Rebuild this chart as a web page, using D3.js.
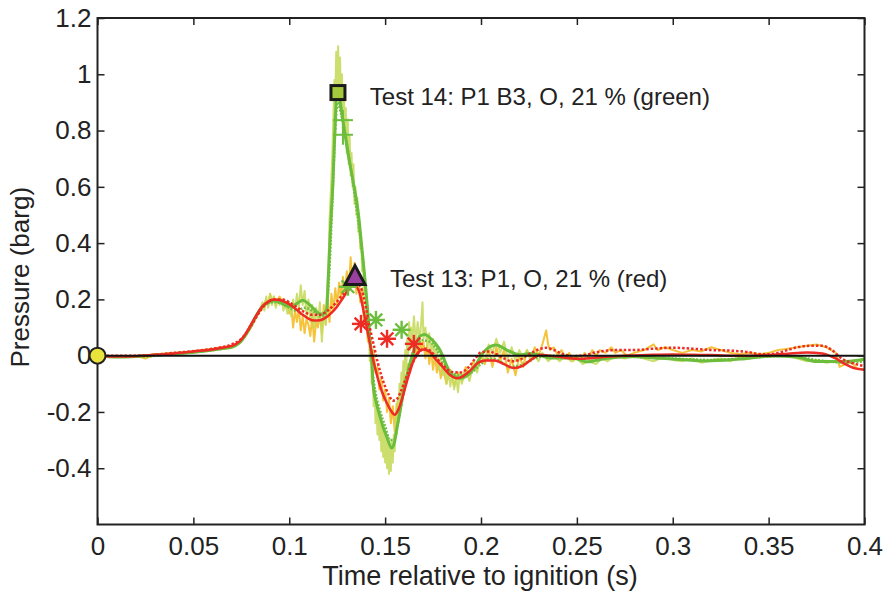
<!DOCTYPE html>
<html><head><meta charset="utf-8">
<script src="https://cdn.jsdelivr.net/npm/d3@7"></script>
<style>
html,body{margin:0;padding:0;background:#fff;}
text{font-family:"Liberation Sans",Arial,Helvetica,sans-serif;fill:#222;}
</style></head>
<body><svg id="chart" width="885" height="592"></svg>
<script>
// ---------- data (time s, pressure barg) ----------
const xTicks = [0,0.05,0.1,0.15,0.2,0.25,0.3,0.35,0.4];
const xTickLabels = ["0","0.05","0.1","0.15","0.2","0.25","0.3","0.35","0.4"];
const yTicks = [-0.4,-0.2,0,0.2,0.4,0.6,0.8,1,1.2];
const yTickLabels = ["-0.4","-0.2","0","0.2","0.4","0.6","0.8","1","1.2"];

// Test 13 raw (orange)
const test13Raw = [[0,0],[0.01,-0.005],[0.02,0.0],[0.025,-0.01],[0.03,0.005],[0.04,0.01],[0.05,0.015],[0.055,0.02],[0.06,0.025],[0.065,0.03],[0.07,0.035],[0.075,0.05],[0.08,0.1],[0.083,0.14],[0.086,0.17],[0.088,0.2],[0.089,0.18],[0.09,0.22],[0.091,0.19],[0.092,0.21],[0.093,0.18],[0.094,0.2],[0.095,0.21],[0.096,0.19],[0.097,0.2],[0.098,0.17],[0.099,0.19],[0.1,0.15],[0.101,0.18],[0.102,0.1],[0.103,0.16],[0.104,0.12],[0.105,0.17],[0.106,0.09],[0.107,0.14],[0.108,0.08],[0.109,0.13],[0.11,0.11],[0.111,0.07],[0.112,0.14],[0.113,0.05],[0.114,0.12],[0.115,0.1],[0.116,0.15],[0.117,0.08],[0.118,0.18],[0.119,0.11],[0.12,0.2],[0.121,0.12],[0.122,0.22],[0.123,0.16],[0.124,0.24],[0.125,0.18],[0.126,0.26],[0.127,0.2],[0.128,0.28],[0.129,0.22],[0.13,0.3],[0.131,0.23],[0.132,0.35],[0.133,0.25],[0.134,0.33],[0.135,0.22],[0.136,0.3],[0.137,0.19],[0.138,0.24],[0.139,0.12],[0.14,0.16],[0.141,0.05],[0.142,0.08],[0.143,-0.02],[0.144,0.02],[0.145,-0.06],[0.146,-0.04],[0.147,-0.12],[0.148,-0.08],[0.149,-0.16],[0.15,-0.12],[0.151,-0.2],[0.152,-0.15],[0.153,-0.24],[0.154,-0.18],[0.155,-0.27],[0.156,-0.17],[0.157,-0.22],[0.158,-0.12],[0.159,-0.16],[0.16,-0.07],[0.161,-0.1],[0.162,-0.03],[0.163,-0.06],[0.164,0.01],[0.165,-0.02],[0.166,0.04],[0.167,0.0],[0.168,0.06],[0.169,0.02],[0.17,0.05],[0.171,-0.01],[0.172,0.04],[0.173,-0.03],[0.174,0.02],[0.175,-0.05],[0.176,0.0],[0.177,-0.06],[0.178,-0.02],[0.179,-0.08],[0.18,-0.04],[0.182,-0.1],[0.184,-0.05],[0.186,-0.11],[0.188,-0.06],[0.19,-0.09],[0.192,-0.04],[0.194,-0.07],[0.196,-0.02],[0.198,-0.05],[0.2,0.0],[0.202,-0.03],[0.204,0.02],[0.206,-0.04],[0.208,0.03],[0.21,-0.02],[0.212,0.02],[0.214,-0.06],[0.216,-0.01],[0.218,-0.07],[0.22,0.0],[0.222,-0.04],[0.224,0.02],[0.226,-0.02],[0.228,0.03],[0.23,0.0],[0.232,0.04],[0.234,0.09],[0.235,0.04],[0.236,0.02],[0.238,0.03],[0.24,0.0],[0.242,0.02],[0.244,-0.01],[0.246,0.01],[0.248,-0.02],[0.25,0.0],[0.252,-0.02],[0.254,0.01],[0.256,-0.01],[0.258,0.02],[0.26,0.0],[0.262,0.02],[0.265,0.01],[0.268,0.03],[0.27,0.01],[0.273,0.02],[0.276,0.0],[0.28,0.01],[0.285,0.02],[0.29,0.04],[0.292,0.02],[0.296,0.03],[0.3,0.02],[0.305,0.01],[0.31,0.02],[0.315,0.015],[0.32,0.03],[0.325,0.02],[0.33,0.01],[0.335,0.005],[0.34,0.01],[0.345,0.005],[0.35,0.01],[0.355,0.02],[0.36,0.025],[0.365,0.03],[0.37,0.035],[0.375,0.04],[0.38,0.03],[0.385,0.01],[0.387,-0.04],[0.39,-0.03],[0.393,-0.02],[0.396,-0.045],[0.4,-0.05]];

// Test 14 raw (light green)
const test14Raw = [[0,0],[0.01,-0.006],[0.02,-0.003],[0.03,0.003],[0.04,0.006],[0.05,0.012],[0.06,0.02],[0.07,0.03],[0.075,0.05],[0.08,0.1],[0.084,0.15],[0.086,0.19],[0.087,0.16],[0.088,0.21],[0.089,0.17],[0.09,0.22],[0.091,0.18],[0.092,0.21],[0.093,0.17],[0.094,0.2],[0.095,0.18],[0.096,0.2],[0.097,0.16],[0.098,0.19],[0.099,0.15],[0.1,0.19],[0.101,0.14],[0.102,0.2],[0.103,0.16],[0.104,0.22],[0.105,0.17],[0.106,0.25],[0.107,0.18],[0.108,0.23],[0.109,0.14],[0.11,0.2],[0.111,0.12],[0.112,0.18],[0.113,0.1],[0.114,0.17],[0.115,0.12],[0.116,0.19],[0.117,0.05],[0.118,0.16],[0.119,0.11],[0.1195,0.2],[0.1205,0.32],[0.121,0.48],[0.1218,0.6],[0.1225,0.72],[0.123,0.85],[0.1236,0.98],[0.124,0.9],[0.1245,1.08],[0.125,0.95],[0.1255,1.1],[0.126,0.92],[0.1265,1.06],[0.127,0.88],[0.1275,1.0],[0.128,0.82],[0.1285,0.95],[0.129,0.78],[0.1295,0.88],[0.13,0.72],[0.1305,0.84],[0.131,0.68],[0.1315,0.78],[0.132,0.64],[0.1325,0.72],[0.133,0.6],[0.1335,0.68],[0.134,0.54],[0.1345,0.6],[0.135,0.5],[0.1355,0.56],[0.136,0.44],[0.1365,0.48],[0.137,0.38],[0.1375,0.42],[0.138,0.3],[0.1385,0.35],[0.139,0.22],[0.1395,0.28],[0.14,0.14],[0.1405,0.2],[0.141,0.06],[0.1415,0.1],[0.142,-0.02],[0.1425,0.02],[0.143,-0.1],[0.1435,-0.06],[0.144,-0.18],[0.1445,-0.12],[0.145,-0.24],[0.1455,-0.17],[0.146,-0.28],[0.1465,-0.2],[0.147,-0.3],[0.1475,-0.22],[0.148,-0.34],[0.1485,-0.25],[0.149,-0.36],[0.1495,-0.27],[0.15,-0.38],[0.1505,-0.28],[0.151,-0.4],[0.1515,-0.3],[0.152,-0.42],[0.1525,-0.32],[0.153,-0.41],[0.1535,-0.3],[0.154,-0.38],[0.1545,-0.28],[0.155,-0.34],[0.1555,-0.22],[0.156,-0.28],[0.1565,-0.16],[0.157,-0.22],[0.1575,-0.1],[0.158,-0.16],[0.1585,-0.06],[0.159,-0.12],[0.1595,-0.02],[0.16,-0.08],[0.1605,0.02],[0.161,-0.05],[0.1615,0.06],[0.162,0.0],[0.1625,0.12],[0.163,0.02],[0.1635,0.1],[0.164,0.03],[0.165,0.14],[0.166,0.05],[0.167,0.12],[0.168,0.04],[0.1695,0.19],[0.17,0.06],[0.171,0.1],[0.172,0.03],[0.173,0.08],[0.174,0.0],[0.175,0.06],[0.176,-0.02],[0.177,0.03],[0.178,-0.05],[0.179,0.0],[0.18,-0.07],[0.181,-0.03],[0.182,-0.1],[0.183,-0.04],[0.184,-0.11],[0.185,-0.06],[0.186,-0.12],[0.187,-0.07],[0.188,-0.13],[0.189,-0.06],[0.19,-0.1],[0.192,-0.05],[0.194,-0.09],[0.196,-0.03],[0.198,-0.06],[0.2,0.01],[0.202,-0.02],[0.204,0.04],[0.206,0.01],[0.208,0.06],[0.21,0.01],[0.212,0.05],[0.214,-0.01],[0.216,0.03],[0.218,-0.02],[0.22,0.02],[0.222,-0.01],[0.224,0.02],[0.226,-0.01],[0.228,0.01],[0.23,-0.02],[0.232,0.01],[0.235,-0.02],[0.238,0.0],[0.241,-0.02],[0.244,0.0],[0.247,-0.02],[0.25,-0.01],[0.253,-0.03],[0.256,-0.02],[0.26,-0.03],[0.263,-0.01],[0.266,-0.02],[0.27,0.0],[0.275,-0.01],[0.28,0.0],[0.285,-0.01],[0.29,-0.02],[0.295,-0.005],[0.3,-0.015],[0.305,-0.02],[0.31,-0.01],[0.315,-0.025],[0.32,-0.015],[0.325,-0.01],[0.33,-0.02],[0.335,-0.005],[0.34,-0.01],[0.345,0.0],[0.35,-0.005],[0.355,0.005],[0.36,0.0],[0.365,-0.01],[0.37,-0.02],[0.375,-0.015],[0.38,-0.025],[0.385,-0.02],[0.39,-0.03],[0.395,-0.02],[0.4,-0.015]];

// Test 13 filtered (red solid)
const test13Smooth = [[0,0],[0.01,-0.003],[0.02,-0.002],[0.03,0.003],[0.04,0.008],[0.05,0.015],[0.06,0.022],[0.065,0.028],[0.07,0.035],[0.074,0.05],[0.077,0.075],[0.08,0.11],[0.083,0.145],[0.086,0.175],[0.089,0.192],[0.092,0.2],[0.095,0.198],[0.098,0.19],[0.101,0.178],[0.104,0.162],[0.107,0.145],[0.11,0.132],[0.113,0.125],[0.116,0.126],[0.119,0.135],[0.122,0.152],[0.125,0.175],[0.128,0.205],[0.131,0.235],[0.133,0.248],[0.135,0.245],[0.137,0.215],[0.139,0.15],[0.141,0.08],[0.143,0.01],[0.145,-0.05],[0.147,-0.1],[0.149,-0.14],[0.151,-0.17],[0.153,-0.195],[0.155,-0.21],[0.157,-0.19],[0.159,-0.15],[0.161,-0.1],[0.163,-0.055],[0.165,-0.015],[0.167,0.01],[0.17,0.022],[0.173,0.015],[0.176,-0.01],[0.18,-0.04],[0.184,-0.07],[0.187,-0.08],[0.19,-0.075],[0.194,-0.055],[0.198,-0.028],[0.202,-0.017],[0.207,-0.017],[0.212,-0.03],[0.217,-0.044],[0.222,-0.035],[0.227,-0.01],[0.231,0.003],[0.236,0.0],[0.241,-0.004],[0.246,-0.009],[0.252,-0.011],[0.258,-0.008],[0.265,-0.004],[0.272,-0.001],[0.28,0.001],[0.29,0.003],[0.3,0.004],[0.31,0.003],[0.32,0.002],[0.33,0.0],[0.34,0.0],[0.35,0.002],[0.36,0.007],[0.37,0.011],[0.378,0.008],[0.385,-0.01],[0.39,-0.03],[0.395,-0.045],[0.4,-0.05]];

// Test 13 filtered (red dotted)
const test13Dotted = [[0,0],[0.02,0.0],[0.04,0.01],[0.06,0.025],[0.07,0.04],[0.075,0.06],[0.08,0.105],[0.084,0.15],[0.088,0.185],[0.092,0.2],[0.096,0.2],[0.1,0.19],[0.104,0.172],[0.108,0.155],[0.112,0.145],[0.116,0.145],[0.12,0.16],[0.124,0.185],[0.128,0.22],[0.131,0.245],[0.134,0.26],[0.136,0.255],[0.138,0.23],[0.14,0.17],[0.142,0.1],[0.144,0.04],[0.146,-0.02],[0.148,-0.07],[0.15,-0.11],[0.152,-0.14],[0.154,-0.16],[0.156,-0.155],[0.158,-0.13],[0.16,-0.095],[0.162,-0.06],[0.164,-0.03],[0.166,-0.005],[0.168,0.015],[0.171,0.025],[0.174,0.015],[0.177,-0.01],[0.181,-0.04],[0.185,-0.058],[0.189,-0.06],[0.193,-0.045],[0.197,-0.01],[0.2,0.012],[0.204,0.015],[0.208,0.005],[0.212,-0.01],[0.216,-0.02],[0.22,-0.015],[0.225,0.005],[0.23,0.022],[0.234,0.028],[0.238,0.02],[0.243,0.005],[0.248,-0.002],[0.254,0.002],[0.26,0.012],[0.266,0.018],[0.272,0.02],[0.28,0.02],[0.29,0.025],[0.3,0.028],[0.31,0.025],[0.32,0.02],[0.33,0.018],[0.34,0.012],[0.345,0.006],[0.35,0.005],[0.355,0.01],[0.36,0.02],[0.365,0.03],[0.372,0.035],[0.378,0.035],[0.383,0.02],[0.388,-0.01],[0.393,-0.025],[0.4,-0.037]];

// Test 14 filtered (green solid)
const test14Smooth = [[0,0],[0.01,-0.005],[0.02,-0.003],[0.03,0.002],[0.04,0.007],[0.05,0.012],[0.06,0.02],[0.065,0.025],[0.07,0.03],[0.074,0.045],[0.077,0.07],[0.08,0.105],[0.083,0.145],[0.086,0.175],[0.089,0.188],[0.092,0.195],[0.095,0.19],[0.098,0.18],[0.101,0.175],[0.104,0.185],[0.107,0.197],[0.11,0.185],[0.113,0.165],[0.116,0.148],[0.118,0.15],[0.1195,0.165],[0.1205,0.3],[0.1215,0.45],[0.1228,0.62],[0.1238,0.8],[0.1247,0.925],[0.1258,0.93],[0.1268,0.89],[0.128,0.835],[0.1306,0.72],[0.1333,0.62],[0.136,0.507],[0.1378,0.388],[0.1395,0.27],[0.141,0.152],[0.142,0.06],[0.143,0.0],[0.1437,-0.1],[0.1455,-0.17],[0.1473,-0.216],[0.149,-0.255],[0.1508,-0.287],[0.1534,-0.328],[0.1548,-0.31],[0.156,-0.264],[0.1577,-0.2],[0.1594,-0.132],[0.1612,-0.075],[0.163,-0.026],[0.1656,0.03],[0.1682,0.07],[0.1708,0.075],[0.1734,0.063],[0.176,0.045],[0.1786,0.02],[0.1812,-0.02],[0.1838,-0.06],[0.189,-0.08],[0.1958,-0.05],[0.201,0.01],[0.208,0.038],[0.2135,0.02],[0.2203,0.003],[0.2255,0.008],[0.23,0.003],[0.236,-0.008],[0.248,-0.008],[0.255,-0.022],[0.265,-0.01],[0.279,-0.003],[0.29,-0.008],[0.3,-0.012],[0.3177,-0.019],[0.335,-0.012],[0.3523,-0.001],[0.3646,-0.005],[0.375,-0.021],[0.387,-0.021],[0.3977,-0.015],[0.4,-0.012]];

// Test 14 filtered (green dotted)
const test14Dotted = [[0,0],[0.02,-0.004],[0.04,0.006],[0.06,0.02],[0.07,0.032],[0.075,0.055],[0.08,0.11],[0.084,0.155],[0.088,0.185],[0.092,0.19],[0.096,0.185],[0.1,0.17],[0.104,0.16],[0.108,0.17],[0.112,0.16],[0.116,0.14],[0.119,0.145],[0.1205,0.25],[0.1225,0.55],[0.124,0.8],[0.1252,0.9],[0.127,0.86],[0.1295,0.78],[0.132,0.67],[0.1345,0.55],[0.137,0.42],[0.139,0.3],[0.1405,0.18],[0.1418,0.08],[0.143,-0.03],[0.145,-0.13],[0.1475,-0.2],[0.15,-0.25],[0.1525,-0.3],[0.1545,-0.3],[0.157,-0.23],[0.16,-0.12],[0.163,-0.04],[0.166,0.03],[0.169,0.055],[0.173,0.05],[0.177,0.02],[0.181,-0.03],[0.186,-0.065],[0.19,-0.07],[0.195,-0.06],[0.2,-0.03],[0.205,-0.01],[0.21,-0.02],[0.215,-0.04],[0.22,-0.035],[0.228,-0.01],[0.235,0.0],[0.245,0.0],[0.255,-0.01],[0.265,-0.005],[0.28,-0.005],[0.3,-0.01],[0.32,-0.015],[0.34,-0.008],[0.36,0.0],[0.375,-0.015],[0.39,-0.025],[0.4,-0.02]];

// markers
const ignitionPoint = [[0,0]];
const test14Peak = [[0.1254,0.935]];
const test13Peak = [[0.1343,0.281]];
const test13Stars = [[0.1374,0.113],[0.151,0.06],[0.165,0.042]];
const test14Stars = [[0.1306,0.245],[0.1452,0.127],[0.1586,0.092]];
const test14Plus = [[0.128,0.837],[0.128,0.785]];

const annotations = [
  {text:"Test 14: P1 B3, O, 21 % (green)", t:0.142, p:0.92},
  {text:"Test 13: P1, O, 21 % (red)", t:0.1525, p:0.275}
];

// ---------- layout ----------
const svg = d3.select("#chart");
const L = 97.5, R = 864.5, T = 18, B = 524.5;
const x = d3.scaleLinear().domain([0,0.4]).range([L,R]);
const y = d3.scaleLinear().domain([-0.6,1.2]).range([B,T]);

const line = d3.line().x(d=>x(d[0])).y(d=>y(d[1]));
const smooth = d3.line().x(d=>x(d[0])).y(d=>y(d[1])).curve(d3.curveMonotoneX);

svg.append("clipPath").attr("id","clip").append("rect")
  .attr("x",L).attr("y",T).attr("width",R-L).attr("height",B-T);
const plot = svg.append("g").attr("clip-path","url(#clip)");

plot.append("path").datum(test13Raw).attr("d",line)
  .attr("fill","none").attr("stroke","#f6c33c").attr("stroke-width",2).attr("stroke-linejoin","round");
plot.append("path").datum(test14Raw).attr("d",line)
  .attr("fill","none").attr("stroke","#c6dc5e").attr("stroke-width",2).attr("stroke-linejoin","round").attr("opacity",0.9);

plot.append("path").datum(test14Dotted).attr("d",smooth)
  .attr("fill","none").attr("stroke","#74c043").attr("stroke-width",2.5).attr("stroke-dasharray","2,1.5");
plot.append("path").datum(test14Smooth).attr("d",smooth)
  .attr("fill","none").attr("stroke","#6cbd3c").attr("stroke-width",3);
plot.append("path").datum(test13Dotted).attr("d",smooth)
  .attr("fill","none").attr("stroke","#ee2b24").attr("stroke-width",2.5).attr("stroke-dasharray","2.5,2");
plot.append("path").datum(test13Smooth).attr("d",smooth)
  .attr("fill","none").attr("stroke","#ee2b24").attr("stroke-width",2.5);

// zero line
svg.append("line").attr("x1",L).attr("x2",R).attr("y1",y(0)).attr("y2",y(0))
  .attr("stroke","#111").attr("stroke-width",2);

// axes (box with inward ticks)
const axisColor = "#222";
svg.append("rect").attr("x",L).attr("y",T).attr("width",R-L).attr("height",B-T)
  .attr("fill","none").attr("stroke",axisColor).attr("stroke-width",2);

const tickFont = 26;
const xAxisB = d3.axisBottom(x).tickValues(xTicks).tickSizeInner(-7).tickSizeOuter(0)
  .tickPadding(12).tickFormat((d,i)=>xTickLabels[i]);
const gx = svg.append("g").attr("transform",`translate(0,${B})`).call(xAxisB);
gx.select(".domain").remove();
gx.selectAll("line").attr("stroke",axisColor).attr("stroke-width",1.5);
gx.selectAll("text").attr("font-size",tickFont).attr("fill","#222").attr("dy","0.71em")
  .style("font-family","'Liberation Sans',Arial,sans-serif");

const xAxisT = d3.axisTop(x).tickValues(xTicks).tickSizeInner(-7).tickSizeOuter(0).tickFormat("");
const gxt = svg.append("g").attr("transform",`translate(0,${T})`).call(xAxisT);
gxt.select(".domain").remove();
gxt.selectAll("line").attr("stroke",axisColor).attr("stroke-width",1.5);

const yAxisL = d3.axisLeft(y).tickValues(yTicks).tickSizeInner(-7).tickSizeOuter(0)
  .tickPadding(6).tickFormat((d,i)=>yTickLabels[i]);
const gy = svg.append("g").attr("transform",`translate(${L},0)`).call(yAxisL);
gy.select(".domain").remove();
gy.selectAll("line").attr("stroke",axisColor).attr("stroke-width",1.5);
gy.selectAll("text").attr("font-size",tickFont).attr("fill","#222")
  .style("font-family","'Liberation Sans',Arial,sans-serif");

const yAxisR = d3.axisRight(y).tickValues(yTicks).tickSizeInner(-7).tickSizeOuter(0).tickFormat("");
const gyr = svg.append("g").attr("transform",`translate(${R},0)`).call(yAxisR);
gyr.select(".domain").remove();
gyr.selectAll("line").attr("stroke",axisColor).attr("stroke-width",1.5);

// axis labels
svg.append("text").attr("x",480).attr("y",585).attr("text-anchor","middle")
  .attr("font-size",27).text("Time relative to ignition (s)");
svg.append("text").attr("transform",`translate(29,${(T+B)/2 + 6}) rotate(-90)`)
  .attr("text-anchor","middle").attr("font-size",26).text("Pressure (barg)");

// markers
const g = svg.append("g");
function star(sel, data, color){
  const s = 9;
  data.forEach(d=>{
    const cx = x(d[0]), cy = y(d[1]);
    const gg = sel.append("g").attr("stroke",color).attr("stroke-width",2.4);
    gg.append("line").attr("x1",cx-s).attr("x2",cx+s).attr("y1",cy).attr("y2",cy);
    gg.append("line").attr("x1",cx).attr("x2",cx).attr("y1",cy-s).attr("y2",cy+s);
    gg.append("line").attr("x1",cx-s*0.7).attr("x2",cx+s*0.7).attr("y1",cy-s*0.7).attr("y2",cy+s*0.7);
    gg.append("line").attr("x1",cx-s*0.7).attr("x2",cx+s*0.7).attr("y1",cy+s*0.7).attr("y2",cy-s*0.7);
  });
}
test14Plus.forEach(d=>{
  const cx=x(d[0]), cy=y(d[1]), s=10;
  const gg = g.append("g").attr("stroke","#6cbd3c").attr("stroke-width",2);
  gg.append("line").attr("x1",cx-s).attr("x2",cx+s).attr("y1",cy).attr("y2",cy);
  gg.append("line").attr("x1",cx).attr("x2",cx).attr("y1",cy-s).attr("y2",cy+s);
});
star(g, test14Stars, "#6cbd3c");
star(g, test13Stars, "#ee2b24");

g.selectAll(".sq").data(test14Peak).enter().append("rect")
  .attr("x",d=>x(d[0])-7).attr("y",d=>y(d[1])-7).attr("width",14).attr("height",14)
  .attr("fill","#a4c93a").attr("stroke","#1a1a1a").attr("stroke-width",3);
g.selectAll(".tri").data(test13Peak).enter().append("path")
  .attr("d",d=>{const cx=x(d[0]), cy=y(d[1]); return `M${cx},${cy-11}L${cx+10},${cy+8}L${cx-10},${cy+8}Z`;})
  .attr("fill","#9b3fa0").attr("stroke","#1a1a1a").attr("stroke-width",3).attr("stroke-linejoin","miter");
g.selectAll(".ig").data(ignitionPoint).enter().append("circle")
  .attr("cx",d=>x(d[0])).attr("cy",d=>y(d[1])).attr("r",8)
  .attr("fill","#e9e43c").attr("stroke","#222").attr("stroke-width",2);

// annotations
svg.selectAll(".ann").data(annotations).enter().append("text")
  .attr("x",d=>x(d.t)).attr("y",d=>y(d.p)).attr("dy","0.35em")
  .attr("font-size",24).text(d=>d.text);
</script></body></html>
